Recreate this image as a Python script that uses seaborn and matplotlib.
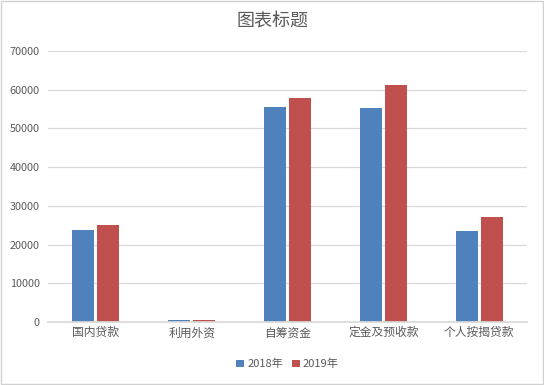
import pandas as pd
import matplotlib
matplotlib.use("Agg")
import matplotlib.pyplot as plt
import seaborn as sns
from matplotlib.patches import Rectangle

categories = ['国内贷款', '利用外资', '自筹资金', '定金及预收款', '个人按揭贷款']
values_2018 = [23800, 400, 55500, 55300, 23400]
values_2019 = [25100, 450, 57900, 61200, 27200]
series = ['2018年', '2019年']

df = pd.DataFrame({
    'cat': categories * 2,
    'year': [series[0]] * 5 + [series[1]] * 5,
    'value': values_2018 + values_2019,
})

sns.set_theme(style="white")
plt.rcParams['font.family'] = ['Noto Sans CJK SC', 'DejaVu Sans']

fig = plt.figure(figsize=(5.44, 3.85), dpi=100)
ax = fig.add_axes([0.088, 0.1636, 0.881, 0.704])

sns.barplot(data=df, x='cat', y='value', hue='year', order=categories,
            palette=['#4F81BD', '#C0504D'], width=0.52, gap=0.12,
            saturation=1, linewidth=0, ax=ax)

ax.set_ylim(0, 70000)
ax.set_yticks(range(0, 70001, 10000))
ax.yaxis.grid(True, color='#D9D9D9', linewidth=0.9)
ax.set_axisbelow(True)
for s in ['top', 'right', 'left']:
    ax.spines[s].set_visible(False)
ax.spines['bottom'].set_color('#D9D9D9')
ax.set_xlabel('')
ax.set_ylabel('')
ax.tick_params(axis='both', length=0, colors='#595959')
ax.tick_params(axis='y', labelsize=7.8, pad=6)
ax.tick_params(axis='x', labelsize=8.5, pad=3)

ax.legend(loc='upper center', bbox_to_anchor=(0.5, -0.1), ncol=2, frameon=False,
          fontsize=8, handlelength=0.7, handleheight=0.7, handletextpad=0.3,
          columnspacing=0.8, labelcolor='#595959')

fig.text(0.5, 0.945, '图表标题', ha='center', va='center', fontsize=13,
         color='#595959', fontweight='light')

fig.patches.append(Rectangle((0.002, 0.003), 0.996, 0.994, transform=fig.transFigure,
                             fill=False, edgecolor='#D0D0D0', linewidth=1))

fig.savefig('out.png', dpi=100)
